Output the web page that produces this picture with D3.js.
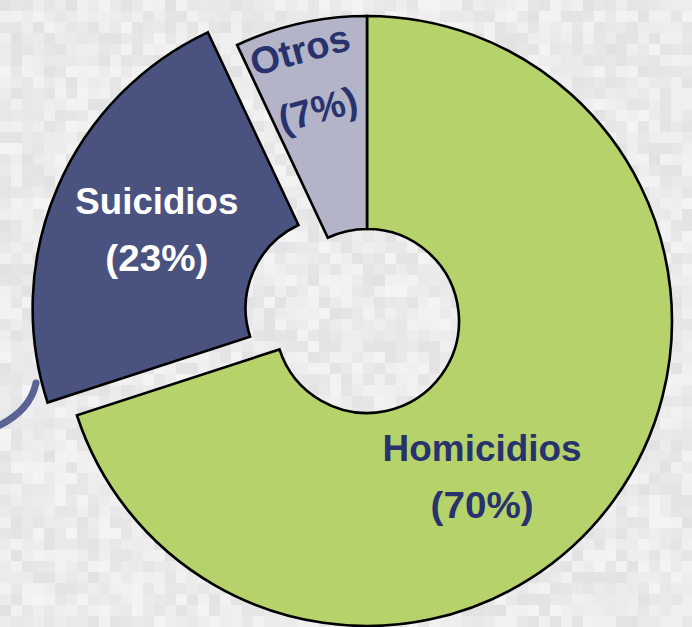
<!DOCTYPE html>
<html>
<head>
<meta charset="utf-8">
<script src="https://cdn.jsdelivr.net/npm/d3@7"></script>
<style>
  html, body { margin: 0; padding: 0; background: #ececec; }
  svg { display: block; }
</style>
</head>
<body>
<svg id="chart"></svg>
<script>
// chart data
const categories = ['Homicidios', 'Suicidios', 'Otros'];
const values = [70, 23, 7];
const pctLabels = ['(70%)', '(23%)', '(7%)'];

const width = 692, height = 627;
const cx = 367, cy = 321;
const outerR = 305, innerR = 92;

const colors = ['#b5d36a', '#4a5380', '#b4b4c8'];
const textColors = ['#28336e', '#ffffff', '#28336e'];
const explode = [0, 32, 0];

const svg = d3.select('#chart')
  .attr('width', width)
  .attr('height', height);

// mosaic-like background (deterministic hash, purely decorative)
const cell = 11;
const bg = svg.append('g');
for (let gy = 0; gy * cell < height; gy++) {
  for (let gx = 0; gx * cell < width; gx++) {
    let h = (gx * 374761393 + gy * 668265263) | 0;
    h = ((h ^ (h >>> 13)) * 1274126177) | 0;
    const t = ((h >>> 0) % 1000) / 1000;
    const v = Math.round(226 + t * 18);
    bg.append('rect')
      .attr('x', gx * cell).attr('y', gy * cell)
      .attr('width', cell).attr('height', cell)
      .attr('fill', `rgb(${v},${v},${v})`);
  }
}

// small curved decoration at left edge
svg.append('path')
  .attr('d', 'M -6 428 Q 30 412 36 383')
  .attr('fill', 'none')
  .attr('stroke', '#5a6394')
  .attr('stroke-width', 7)
  .attr('stroke-linecap', 'round');

const pie = d3.pie().sort(null).value(d => d)(values);
const arc = d3.arc().innerRadius(innerR).outerRadius(outerR);

const g = svg.append('g').attr('transform', `translate(${cx},${cy})`);

const offset = (d, i) => {
  const a = (d.startAngle + d.endAngle) / 2;
  return [Math.sin(a) * explode[i], -Math.cos(a) * explode[i]];
};

g.selectAll('path.slice')
  .data(pie)
  .join('path')
  .attr('class', 'slice')
  .attr('d', arc)
  .attr('transform', (d, i) => `translate(${offset(d, i)})`)
  .attr('fill', (d, i) => colors[i])
  .attr('stroke', '#000')
  .attr('stroke-width', 2.6)
  .attr('stroke-linejoin', 'miter');

// label placement: radius and angle tweak per slice (degrees)
const labelR = [194, 197, 0];
const labelAngleShift = [17.6, 0, 0];
const lineGap = [57, 57, 58];
const fontSize = [36, 36, 38];
const nameWidth = [199, 163, 0];
const pctWidth = [103, 103, 0];

pie.forEach((d, i) => {
  const mid = (d.startAngle + d.endAngle) / 2;
  const [ox, oy] = offset(d, i);
  const lab = g.append('g');
  if (i === 2) {
    // Otros: rotated, following its slice
    const pts = [[279, -1.3, categories[i]], [217, -0.5, pctLabels[i]]];
    pts.forEach(([r, shift, txt]) => {
      const a = mid + shift * Math.PI / 180;
      const x = ox + Math.sin(a) * r, y = oy - Math.cos(a) * r;
      lab.append('text')
        .attr('transform', `translate(${x},${y}) rotate(-15.5)`)
        .attr('text-anchor', 'middle')
        .attr('dominant-baseline', 'central')
        .attr('font-family', 'Liberation Sans, Arial, sans-serif')
        .attr('font-weight', 'bold')
        .attr('font-size', fontSize[i])
        .attr('fill', textColors[i])
        .text(txt);
    });
    return;
  }
  const a = mid + labelAngleShift[i] * Math.PI / 180;
  const x = ox + Math.sin(a) * labelR[i];
  const y = oy - Math.cos(a) * labelR[i];
  [[categories[i], y - lineGap[i] / 2, nameWidth[i]], [pctLabels[i], y + lineGap[i] / 2, pctWidth[i]]]
    .forEach(([txt, ty, w]) => {
      lab.append('text')
        .attr('x', x).attr('y', ty)
        .attr('text-anchor', 'middle')
        .attr('dominant-baseline', 'central')
        .attr('font-family', 'Liberation Sans, Arial, sans-serif')
        .attr('font-weight', 'bold')
        .attr('font-size', fontSize[i])
        .attr('fill', textColors[i])
        .attr('textLength', w)
        .attr('lengthAdjust', 'spacingAndGlyphs')
        .text(txt);
    });
});
</script>
</body>
</html>
